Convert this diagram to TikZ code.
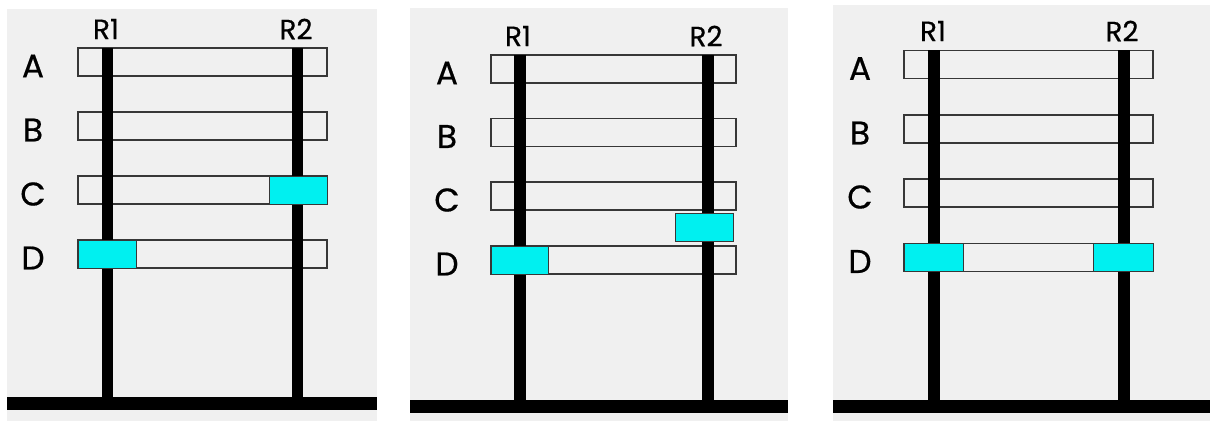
\documentclass[tikz,border=0pt]{standalone}
\usepackage{fontspec}
\newfontfamily\labelfont{Poppins}[FakeBold=0.5]
\definecolor{panelbg}{RGB}{240,240,240}
\definecolor{slotline}{RGB}{55,55,55}
\definecolor{hit}{RGB}{0,240,240}
\tikzset{
  px/.style={x=1bp,y=-1bp},
  panelbox/.style={fill=panelbg,draw=none},
  slot/.style={draw=slotline,line width=1.4bp,fill=none,rectangle,inner sep=0pt,minimum height=28bp},
  rail/.style={line width=11.5bp,draw=black},
  ground/.style={fill=black,draw=none},
  marker/.style={draw=slotline,line width=0.8bp,fill=hit,rectangle,inner sep=0pt,minimum height=28bp},
  rowlabel/.style={font=\labelfont\fontsize{33}{33}\selectfont,inner sep=0pt},
  raillabel/.style={font=\labelfont\fontsize{28}{28}\selectfont,inner sep=0pt}
}
\begin{document}
\begin{tikzpicture}[px]
\useasboundingbox (0,0) rectangle (1210,421);
\fill[white] (0,0) rectangle (1210,421);
% ---------------- Panel 1 ----------------
\fill[panelbox] (7,9) rectangle (377,421);
\foreach \n/\y in {A/62,B/126,C/190,D/254}{
  \node[slot,minimum width=249bp] (p1\n) at (202.5,\y) {};
  \node[rowlabel] (p1l\n) at (33,\y+4) {\n};
}
\coordinate (p1r1t) at (107.5,48); \coordinate (p1r1b) at (107.5,397);
\coordinate (p1r2t) at (297.5,48); \coordinate (p1r2b) at (297.5,397);
\draw[rail] (p1r1t) -- (p1r1b);
\draw[rail] (p1r2t) -- (p1r2b);
\fill[ground] (7,397) rectangle (377,410);
\node[marker,minimum width=58bp] (p1mC) at (298,190) {};
\node[marker,minimum width=58bp] (p1mD) at (107,254) {};
\node[raillabel] (p1R1) at (106,29) {R1};
\node[raillabel] (p1R2) at (296,29) {R2};
% ---------------- Panel 2 ----------------
\fill[panelbox] (410,8) rectangle (788,421);
\foreach \n/\y in {A/69,B/132.5,C/196,D/260}{
  \node[slot,minimum width=245bp] (p2\n) at (613.5,\y) {};
  \node[rowlabel] (p2l\n) at (447,\y+4) {\n};
}
\coordinate (p2r1t) at (520,55); \coordinate (p2r1b) at (520,400);
\coordinate (p2r2t) at (708,55); \coordinate (p2r2b) at (708,400);
\draw[rail] (p2r1t) -- (p2r1b);
\draw[rail] (p2r2t) -- (p2r2b);
\fill[ground] (410,400) rectangle (788,413);
\node[marker,minimum width=58bp] (p2mM) at (704,227) {};
\node[marker,minimum width=57bp] (p2mD) at (519.5,260) {};
\node[raillabel] (p2R1) at (518,36) {R1};
\node[raillabel] (p2R2) at (706,36) {R2};
% ---------------- Panel 3 ----------------
\fill[panelbox] (833,5) rectangle (1210,421);
\foreach \n/\y in {A/64.5,B/129,C/193,D/257.5}{
  \node[slot,minimum width=249bp] (p3\n) at (1028.5,\y) {};
  \node[rowlabel] (p3l\n) at (860,\y+4) {\n};
}
\coordinate (p3r1t) at (934,50); \coordinate (p3r1b) at (934,400);
\coordinate (p3r2t) at (1124,50); \coordinate (p3r2b) at (1124,400);
\draw[rail] (p3r1t) -- (p3r1b);
\draw[rail] (p3r2t) -- (p3r2b);
\fill[ground] (833,400) rectangle (1210,413);
\node[marker,minimum width=59bp] (p3mL) at (933.5,257.5) {};
\node[marker,minimum width=60bp] (p3mR) at (1123,257.5) {};
\node[raillabel] (p3R1) at (933,31) {R1};
\node[raillabel] (p3R2) at (1122,31) {R2};
\end{tikzpicture}
\end{document}
